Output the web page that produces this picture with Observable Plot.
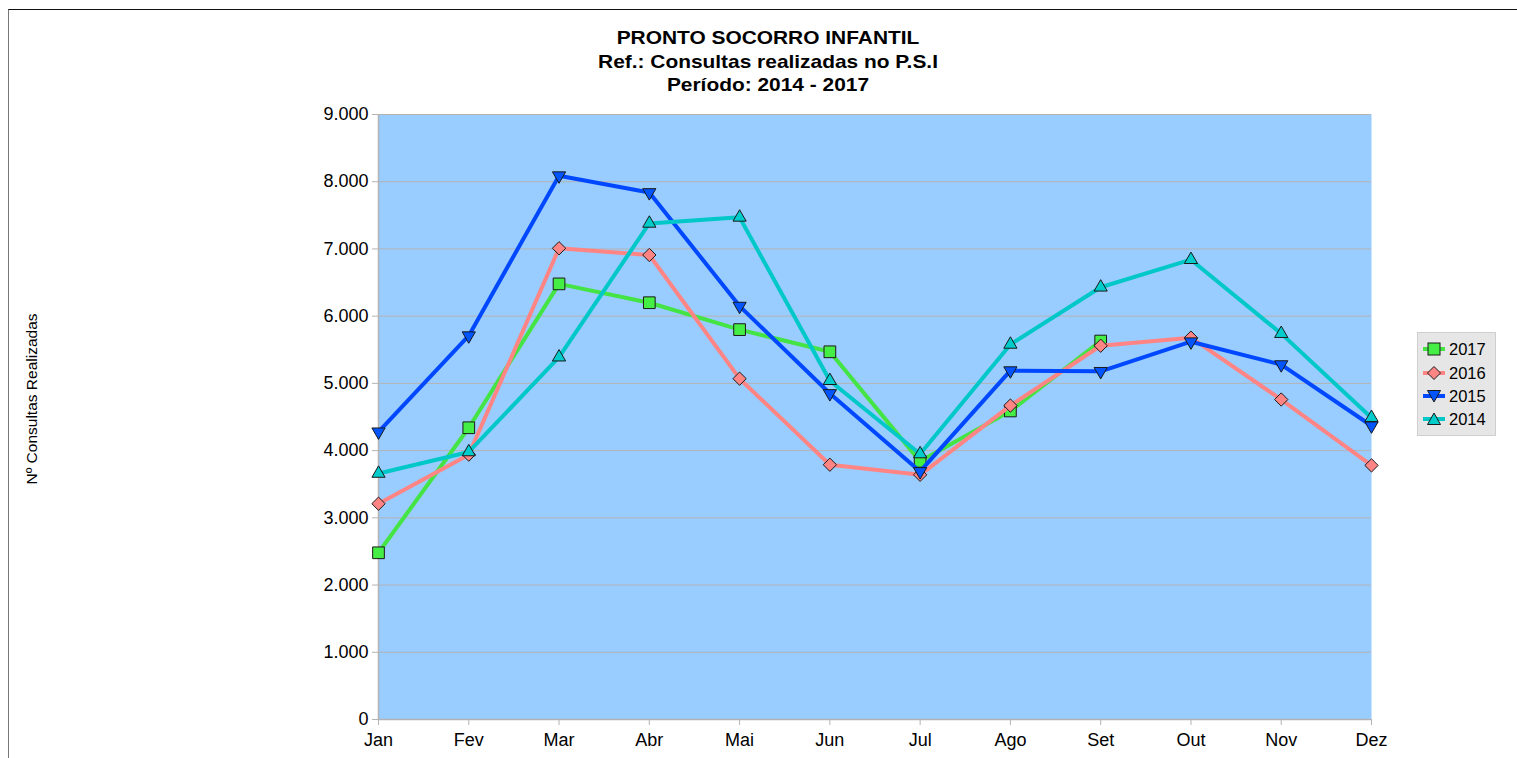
<!DOCTYPE html>
<html>
<head>
<meta charset="utf-8">
<script src="https://cdn.jsdelivr.net/npm/d3@7"></script>
<script src="https://cdn.jsdelivr.net/npm/@observablehq/plot@0.6"></script>
<style>
  html, body { margin: 0; padding: 0; background: #fff; }
  body { font-family: "Liberation Sans", Arial, sans-serif; }
  #wrap { position: relative; width: 1517px; height: 758px; overflow: hidden; }
  #border { position: absolute; left: 8px; top: 9px; right: 0; bottom: 0; border-top: 1.5px solid #111; border-left: 1px solid #777; }
  #title { position: absolute; left: 518px; width: 500px; top: 26px; text-align: center; font-weight: bold; font-size: 19px; line-height: 23.5px; color: #000; transform: scaleX(1.1); transform-origin: 250px 0; }
  #ylabel { position: absolute; left: 32px; top: 399px; transform: translate(-50%, -50%) rotate(-90deg); white-space: nowrap; font-size: 15.5px; color: #000; }
  #legend { position: absolute; left: 1417px; top: 332px; width: 79px; height: 104px; background: #e6e6e6; border: 1px solid #cfcfcf; box-sizing: border-box; }
  .row { position: absolute; left: 5px; height: 20px; display: flex; align-items: center; font-size: 16.5px; color: #000; }
  .row svg { margin-right: 4px; }
  #chart { position: absolute; left: 0; top: 0; }
</style>
</head>
<body>
<div id="wrap">
  <div id="border"></div>
  <div id="chart"></div>
  <div id="title"></div>
  <div id="ylabel"></div>
  <div id="legend"></div>
</div>
<script>
// ---- Data ----
const months = ["Jan", "Fev", "Mar", "Abr", "Mai", "Jun", "Jul", "Ago", "Set", "Out", "Nov", "Dez"];
const yTicks = [0, 1000, 2000, 3000, 4000, 5000, 6000, 7000, 8000, 9000];
const titleLines = ["PRONTO SOCORRO INFANTIL", "Ref.: Consultas realizadas no P.S.I", "Período: 2014 - 2017"];
const yLabel = "Nº Consultas Realizadas";
const seriesNames = ["2017", "2016", "2015", "2014"];
const v2017 = [2480, 4340, 6480, 6200, 5800, 5470, 3840, 4590, 5630];
const v2016 = [3210, 3940, 7010, 6910, 5070, 3790, 3640, 4670, 5560, 5680, 4760, 3780];
const v2015 = [4280, 5710, 8090, 7840, 6150, 4850, 3690, 5190, 5180, 5620, 5280, 4370];
const v2014 = [3660, 3980, 5390, 7380, 7470, 5040, 3950, 5580, 6430, 6840, 5740, 4490];
const lineColors = ["#44e444", "#ff8585", "#0048ff", "#00c8c8"];
const markerFills = ["#44ee44", "#ff8585", "#0055ff", "#00cccc"];
const symbols = ["square", "diamond2", "triangle", "triangle"];
const rotations = [0, 0, 180, 0];
const radii = [6.6, 6.0, 4.9, 4.9];

const seriesValues = [v2017, v2016, v2015, v2014];

// ---- Build ----
const locale = d3.formatLocale({decimal: ",", thousands: ".", grouping: [3], currency: ["", ""]});
const fmt = locale.format(",d");

const seriesMarks = [];
seriesValues.forEach((vals, i) => {
  const data = vals.map((v, j) => ({month: months[j], value: v}));
  seriesMarks.push(Plot.line(data, {x: "month", y: "value", stroke: lineColors[i], strokeWidth: 4, strokeLinejoin: "round"}));
  seriesMarks.push(Plot.dot(data, {x: "month", y: "value", symbol: symbols[i], r: radii[i], rotate: rotations[i], fill: markerFills[i], stroke: "#1a1a1a", strokeWidth: 1}));
});

const chart = Plot.plot({
  width: 1517,
  height: 758,
  marginLeft: 378,
  marginRight: 146,
  marginTop: 114,
  marginBottom: 39,
  style: {fontFamily: "'Liberation Sans', Arial, sans-serif", fontSize: "18px", background: "transparent", color: "#000"},
  x: {type: "point", domain: months, padding: 0, round: false},
  y: {domain: [0, 9000]},
  marks: [
    Plot.frame({fill: "#99ccff", stroke: "none"}),
    Plot.gridY(yTicks, {stroke: "#b3b3b3", strokeOpacity: 1, strokeWidth: 1}),
    Plot.ruleX([months[0]], {stroke: "#b3b3b3", strokeWidth: 1.5}),
    Plot.ruleY([0], {stroke: "#b3b3b3", strokeWidth: 1.5}),
    Plot.axisY(yTicks, {tickSize: 6, tickPadding: 4, stroke: "#b3b3b3", fill: "#000", tickFormat: fmt, label: null, fontSize: 18}),
    Plot.axisX(months, {tickSize: 6, tickPadding: 8, stroke: "#b3b3b3", fill: "#000", label: null, fontSize: 18}),
    ...seriesMarks
  ]
});
document.getElementById("chart").appendChild(chart);

// Title
document.getElementById("title").innerHTML = titleLines.map(t => `<div>${t}</div>`).join("");
document.getElementById("ylabel").textContent = yLabel;

// Legend
const legend = document.getElementById("legend");
const rowTops = [6, 30, 53, 76];
const shapeSvg = (i) => {
  const c = markerFills[i];
  let shape = "";
  if (i === 0) shape = `<rect x="5" y="2" width="12" height="12" fill="${c}" stroke="#1a1a1a"/>`;
  if (i === 1) shape = `<path d="M11 1.5 L17.5 8 L11 14.5 L4.5 8 Z" fill="${c}" stroke="#1a1a1a"/>`;
  if (i === 2) shape = `<path d="M4.5 2.5 L17.5 2.5 L11 14 Z" fill="${c}" stroke="#1a1a1a"/>`;
  if (i === 3) shape = `<path d="M4.5 13.5 L17.5 13.5 L11 2 Z" fill="${c}" stroke="#1a1a1a"/>`;
  return `<svg width="22" height="16"><line x1="0" x2="22" y1="8" y2="8" stroke="${lineColors[i]}" stroke-width="4"/>${shape}</svg>`;
};
seriesNames.forEach((name, i) => {
  const row = document.createElement("div");
  row.className = "row";
  row.style.top = rowTops[i] + "px";
  row.innerHTML = shapeSvg(i) + `<span>${name}</span>`;
  legend.appendChild(row);
});
</script>
</body>
</html>
